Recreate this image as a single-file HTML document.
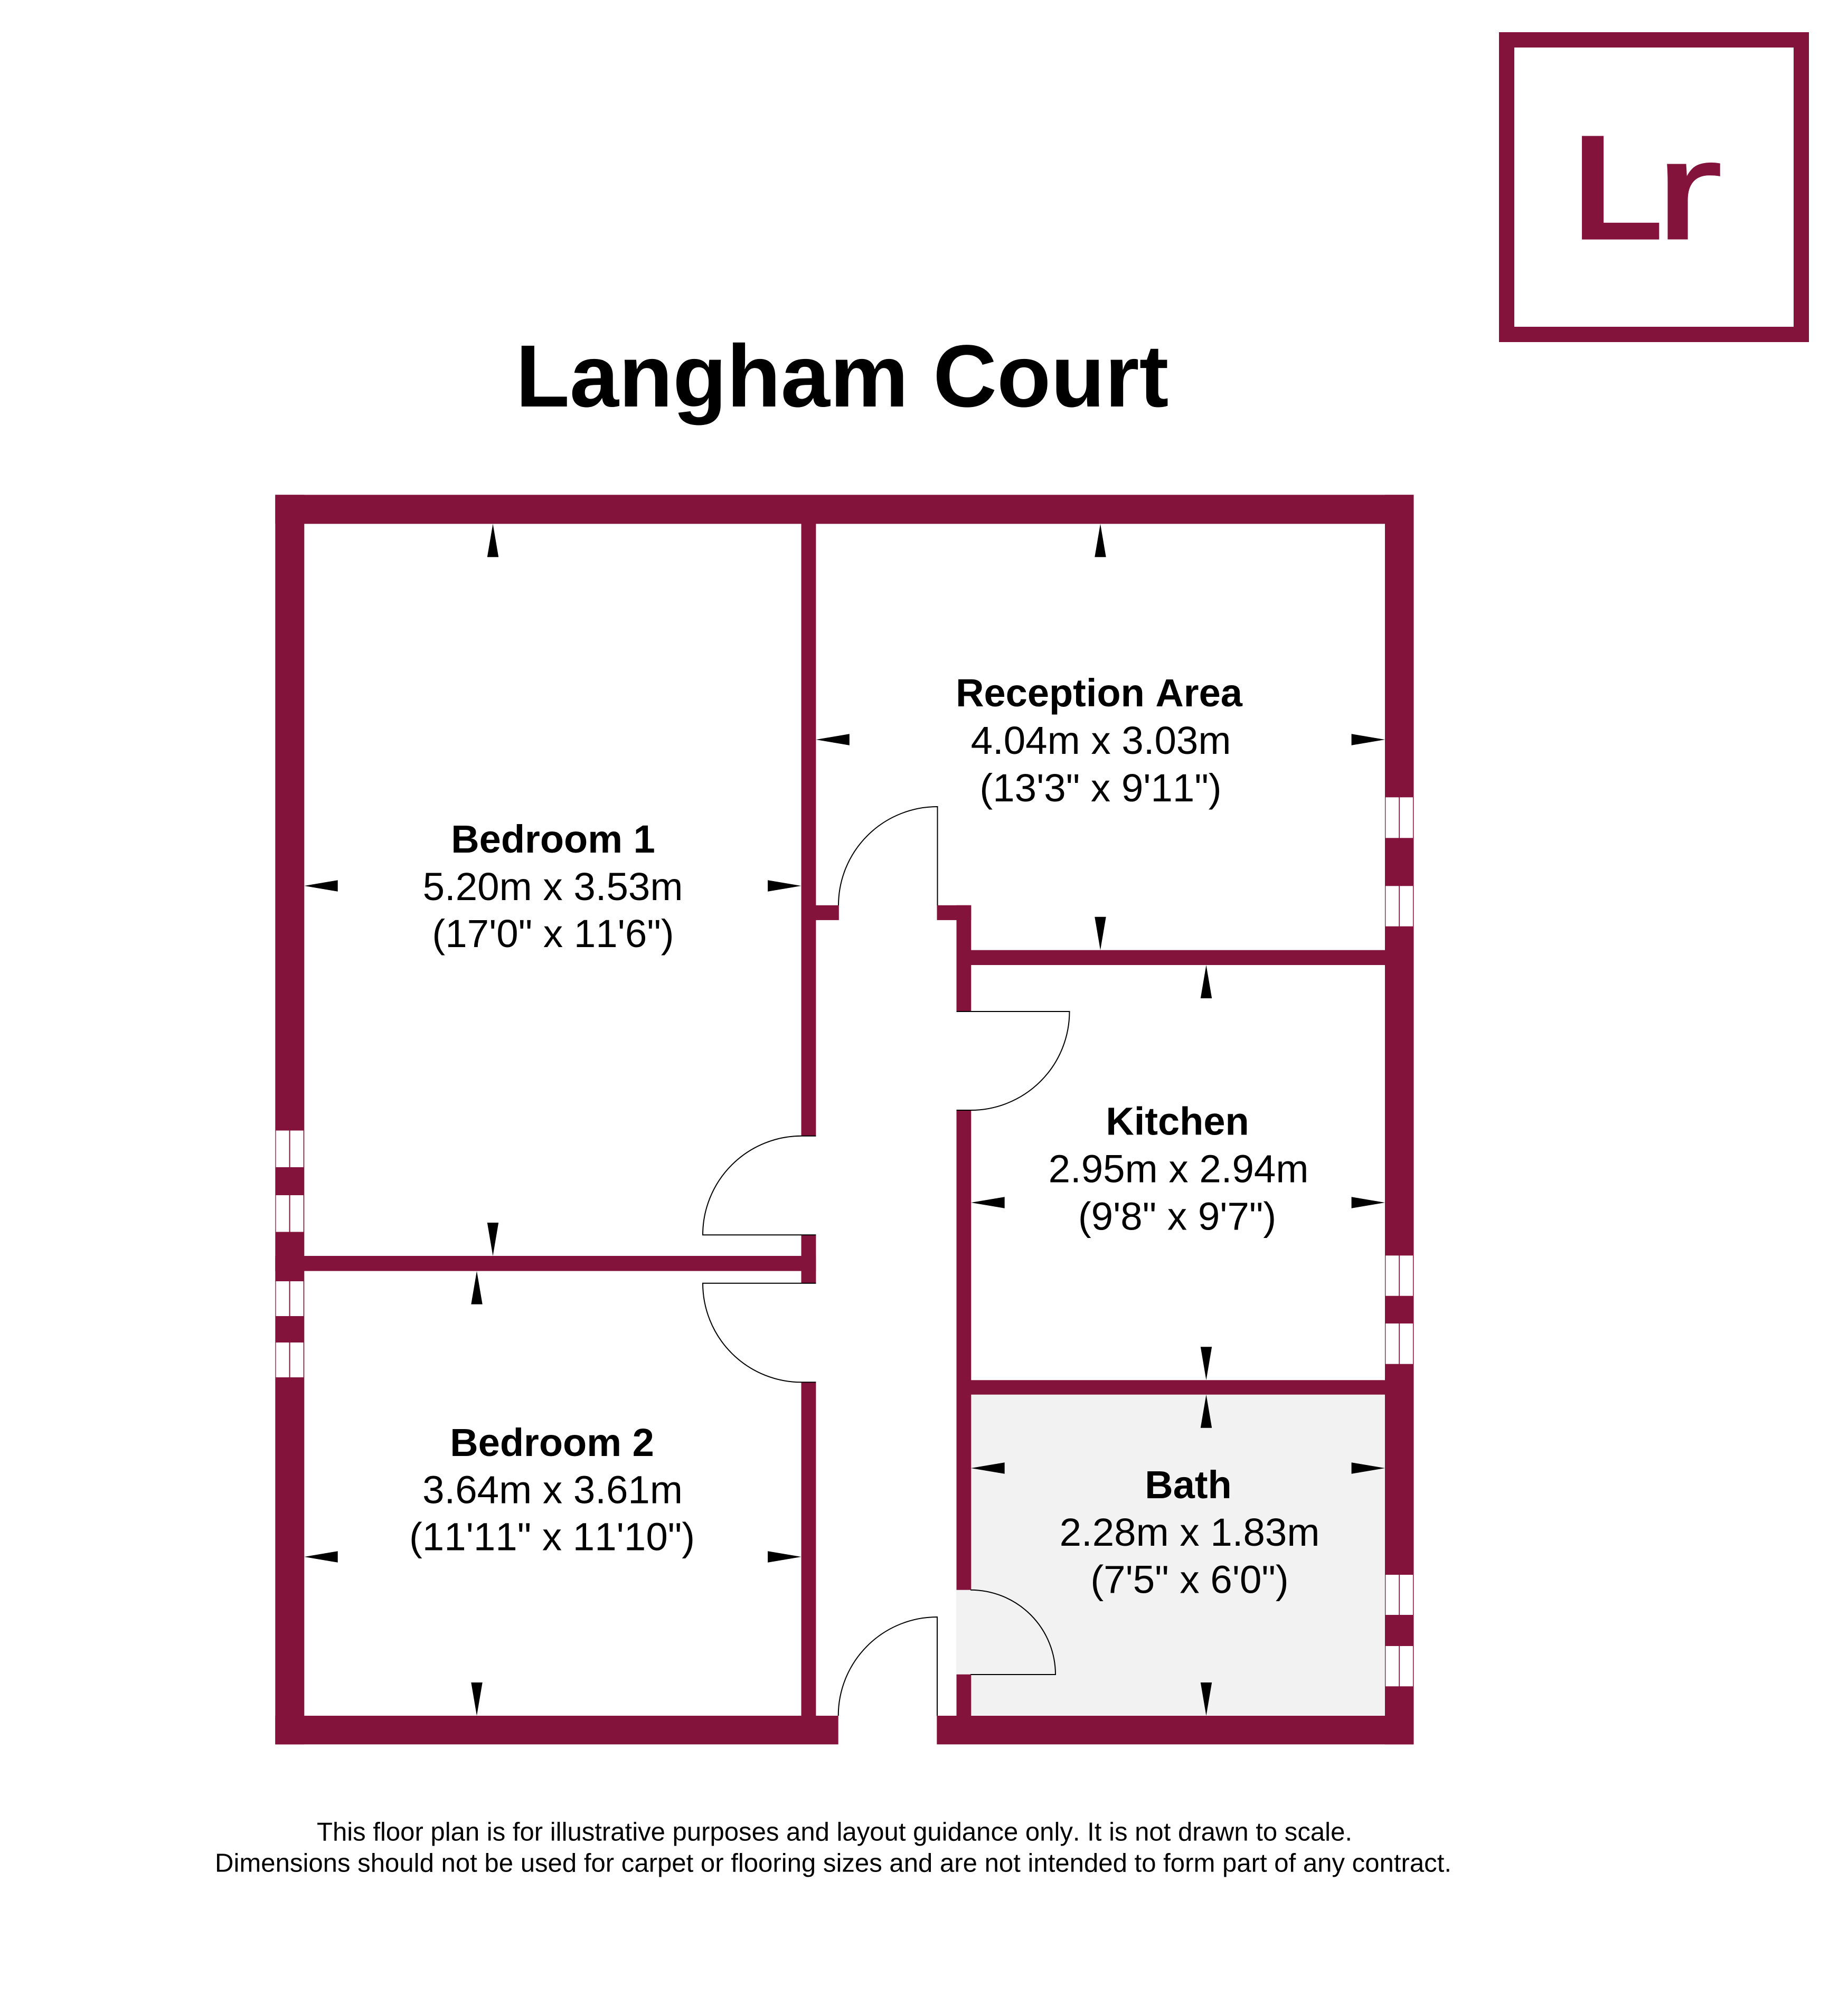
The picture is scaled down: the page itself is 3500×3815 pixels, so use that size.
<!DOCTYPE html>
<html lang="en">
<head>
<meta charset="utf-8">
<title>Langham Court</title>
<style>
html,body{margin:0;padding:0;background:#fff;width:3500px;height:3815px;overflow:hidden}
svg{display:block;position:absolute;left:0;top:0}
text{font-family:"Liberation Sans",Arial,sans-serif;fill:#000;text-anchor:middle;font-kerning:none}
.n{font-size:74px;font-weight:700}
.d{font-size:74.5px}
.w{fill:#83133a}
.a{fill:#000}
.g{fill:#fff}
.door{fill:none;stroke:#000;stroke-width:2}
</style>
</head>
<body>
<svg xmlns="http://www.w3.org/2000/svg" width="3500" height="3815" viewBox="0 0 3500 3815">
<rect width="3500" height="3815" fill="#fff"/>

<!-- logo -->
<rect x="2853.5" y="75.5" width="558" height="558" fill="none" stroke="#83133a" stroke-width="29"/>
<g><text x="2977" y="453.6" font-size="285" font-weight="700" style="fill:#83133a;text-anchor:start">L</text><text transform="translate(3134,452) scale(1.45,1)" font-size="265" style="fill:#83133a;stroke:#83133a;stroke-width:3;text-anchor:start">r</text></g>

<!-- title -->
<text x="1595" y="770" font-size="167.4" font-weight="700">Langham Court</text>

<!-- bath floor -->
<rect x="1839" y="2641" width="785" height="608" fill="#f2f2f2"/>
<rect x="1811" y="3011.7" width="29" height="160" fill="#f2f2f2"/>

<!-- walls -->
<g class="w">
<rect x="521.3" y="937.3" width="2156.2" height="55"/>
<rect x="521.3" y="937.3" width="55" height="2367"/>
<rect x="2623" y="937.3" width="54.5" height="2367"/>
<rect x="521.3" y="3250" width="1066.4" height="54.3"/>
<rect x="1774.3" y="3250" width="903.2" height="54.3"/>
<rect x="1517.5" y="992" width="27.9" height="1159.8"/>
<rect x="1517.5" y="2339.3" width="27.9" height="91.5"/>
<rect x="1517.5" y="2618.3" width="27.9" height="632"/>
<rect x="1517.5" y="1714.8" width="71.3" height="28.1"/>
<rect x="1774.5" y="1714.8" width="64.8" height="28.1"/>
<rect x="1811.5" y="1714.8" width="27.8" height="201"/>
<rect x="1811.5" y="2103" width="27.8" height="908.7"/>
<rect x="1811.5" y="3171.7" width="27.8" height="78.5"/>
<rect x="1811.5" y="1799.7" width="865.5" height="28.3"/>
<rect x="521.3" y="2379" width="1024" height="28.6"/>
<rect x="1811.5" y="2614.3" width="865.5" height="27.4"/>
</g>

<!-- windows -->
<g class="g">
<rect x="522.6" y="2141.5" width="25" height="69.5"/><rect x="549.6" y="2141.5" width="25" height="69.5"/>
<rect x="522.6" y="2264" width="25" height="69.5"/><rect x="549.6" y="2264" width="25" height="69.5"/>
<rect x="522.6" y="2427" width="25" height="66"/><rect x="549.6" y="2427" width="25" height="66"/>
<rect x="522.6" y="2543" width="25" height="66"/><rect x="549.6" y="2543" width="25" height="66"/>

<rect x="2624.3" y="1510.3" width="25" height="77"/><rect x="2651" y="1510.3" width="25" height="77"/>
<rect x="2624.3" y="1678.3" width="25" height="76.4"/><rect x="2651" y="1678.3" width="25" height="76.4"/>
<rect x="2624.3" y="2378.3" width="25" height="76.4"/><rect x="2651" y="2378.3" width="25" height="76.4"/>
<rect x="2624.3" y="2507" width="25" height="76.7"/><rect x="2651" y="2507" width="25" height="76.7"/>
<rect x="2624.3" y="2983" width="25" height="76"/><rect x="2651" y="2983" width="25" height="76"/>
<rect x="2624.3" y="3118" width="25" height="76.3"/><rect x="2651" y="3118" width="25" height="76.3"/>
</g>

<!-- doors -->
<g class="door">
<path d="M1588 1715 A187.5 187 0 0 1 1775.5 1528 L1775.5 1715"/>
<path d="M1811.5 1916 L2025.5 1916 A187 187 0 0 1 1838.5 2103 L1811.5 2103"/>
<path d="M1545.4 2151.8 L1518 2151.8 A187.3 187.5 0 0 0 1331 2339.3 L1545.4 2339.3"/>
<path d="M1545.4 2430.8 L1331 2430.8 A187.3 187.5 0 0 0 1518 2618.3 L1545.4 2618.3"/>
<path d="M1587.7 3250 A187.3 187 0 0 1 1775 3063 L1775 3250"/>
<path d="M1838 3011.7 A161 160.5 0 0 1 1999 3172 L1838 3172"/>
</g>

<!-- dimension arrows -->
<g class="a">
<polygon points="933.5,992.3 922.8,1055.3 944.2,1055.3"/>
<polygon points="933.5,2379 922.8,2316 944.2,2316"/>
<polygon points="576.3,1678 639.7,1667.3 639.7,1688.7"/>
<polygon points="1517.5,1678 1454.1,1667.3 1454.1,1688.7"/>

<polygon points="903,2407.6 892.3,2470.6 913.7,2470.6"/>
<polygon points="903,3250 892.3,3187 913.7,3187"/>
<polygon points="576.3,2949 639.7,2938.3 639.7,2959.7"/>
<polygon points="1517.5,2949 1454.1,2938.3 1454.1,2959.7"/>

<polygon points="2084,992.3 2073.3,1055.3 2094.7,1055.3"/>
<polygon points="2084,1799.7 2073.3,1736.7 2094.7,1736.7"/>
<polygon points="1545.4,1401 1608.8,1390.3 1608.8,1411.7"/>
<polygon points="2623,1401 2559.6,1390.3 2559.6,1411.7"/>

<polygon points="2284.5,1828 2273.8,1891 2295.2,1891"/>
<polygon points="2284.5,2614.3 2273.8,2551.3 2295.2,2551.3"/>
<polygon points="1839,2278 1902.7,2267.3 1902.7,2288.7"/>
<polygon points="2623,2278 2559.6,2267.3 2559.6,2288.7"/>

<polygon points="2284.5,2641.7 2273.8,2704.7 2295.2,2704.7"/>
<polygon points="2284.5,3250 2273.8,3187 2295.2,3187"/>
<polygon points="1839,2781 1902.7,2770.3 1902.7,2791.7"/>
<polygon points="2623,2781 2559.6,2770.3 2559.6,2791.7"/>
</g>

<!-- room labels -->
<text class="n" x="1047.5" y="1615">Bedroom 1</text>
<text class="d" x="1047" y="1705">5.20m x 3.53m</text>
<text class="d" x="1047.5" y="1794">(17'0" x 11'6")</text>

<text class="n" x="1045.5" y="2758">Bedroom 2</text>
<text class="d" x="1046.5" y="2847.7">3.64m x 3.61m</text>
<text class="d" x="1045.5" y="2936.7">(11'11" x 11'10")</text>

<text class="n" x="2081.5" y="1338">Reception Area</text>
<text class="d" x="2085" y="1428">4.04m x 3.03m</text>
<text class="d" x="2084.5" y="1518">(13'3" x 9'11")</text>

<text class="n" x="2230" y="2149.5">Kitchen</text>
<text class="d" x="2232" y="2239.5">2.95m x 2.94m</text>
<text class="d" x="2229.5" y="2329.3">(9'8" x 9'7")</text>

<text class="n" x="2250.5" y="2838">Bath</text>
<text class="d" x="2253" y="2928">2.28m x 1.83m</text>
<text class="d" x="2253" y="3017.5">(7'5" x 6'0")</text>

<!-- footer -->
<text x="1580.5" y="3486.7" font-size="49" textLength="1961" lengthAdjust="spacingAndGlyphs">This floor plan is for illustrative purposes and layout guidance only. It is not drawn to scale.</text>
<text x="1578" y="3545.7" font-size="49" textLength="2342" lengthAdjust="spacingAndGlyphs">Dimensions should not be used for carpet or flooring sizes and are not intended to form part of any contract.</text>
</svg>
</body>
</html>
